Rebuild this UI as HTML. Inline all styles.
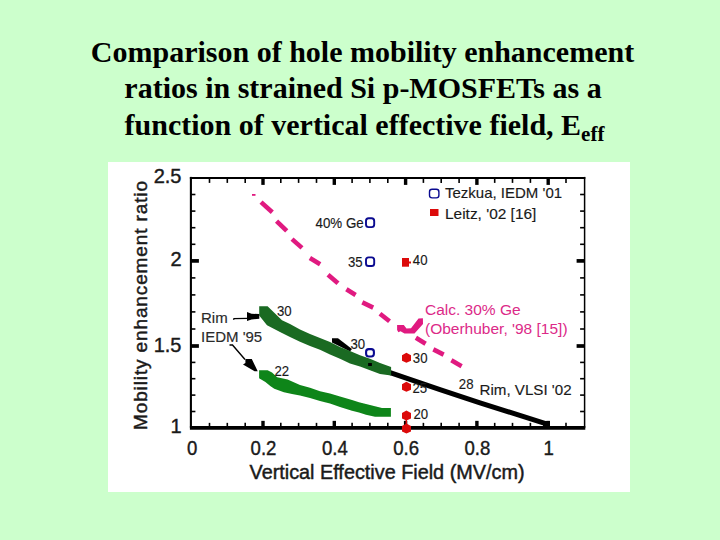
<!DOCTYPE html>
<html><head><meta charset="utf-8">
<style>
html,body{margin:0;padding:0;}
body{width:720px;height:540px;background:#ccffcc;position:relative;overflow:hidden;}
.t{position:absolute;left:0;width:725px;text-align:center;font-family:"Liberation Serif",serif;font-weight:bold;font-size:30px;line-height:36px;color:#000;white-space:nowrap;}
.t sub{font-size:21px;vertical-align:baseline;position:relative;top:6px;}
#box{position:absolute;left:108px;top:162px;width:522px;height:330px;background:#fff;}
svg{position:absolute;left:0;top:0;}
</style></head><body>
<div class="t" style="top:34px">Comparison of hole mobility enhancement</div>
<div class="t" style="top:69.5px;left:0.5px">ratios in strained Si p-MOSFETs as a</div>
<div class="t" style="top:107px;left:2px">function of vertical effective field, E<sub>eff</sub></div>
<div id="box"></div>
<svg width="720" height="540" viewBox="0 0 720 540">
<line x1="190.9" y1="176.9" x2="190.9" y2="427.85" stroke="#000" stroke-width="2.1"/>
<line x1="189.9" y1="177.9" x2="585.3000000000001" y2="177.9" stroke="#000" stroke-width="2"/>
<line x1="584.6" y1="176.9" x2="584.6" y2="427.85" stroke="#000" stroke-width="1.5"/>
<line x1="189.9" y1="427.85" x2="585.3000000000001" y2="427.85" stroke="#000" stroke-width="3.9"/>
<line x1="209.5" y1="427.85" x2="209.5" y2="422.85" stroke="#000" stroke-width="1.6"/>
<line x1="209.5" y1="177.9" x2="209.5" y2="182.9" stroke="#000" stroke-width="1.6"/>
<line x1="227.3" y1="427.85" x2="227.3" y2="422.85" stroke="#000" stroke-width="1.6"/>
<line x1="227.3" y1="177.9" x2="227.3" y2="182.9" stroke="#000" stroke-width="1.6"/>
<line x1="245.2" y1="427.85" x2="245.2" y2="422.85" stroke="#000" stroke-width="1.6"/>
<line x1="245.2" y1="177.9" x2="245.2" y2="182.9" stroke="#000" stroke-width="1.6"/>
<line x1="263.0" y1="427.85" x2="263.0" y2="420.85" stroke="#000" stroke-width="3.4"/>
<line x1="263.0" y1="177.9" x2="263.0" y2="184.9" stroke="#000" stroke-width="3.4"/>
<line x1="280.8" y1="427.85" x2="280.8" y2="422.85" stroke="#000" stroke-width="1.6"/>
<line x1="280.8" y1="177.9" x2="280.8" y2="182.9" stroke="#000" stroke-width="1.6"/>
<line x1="298.6" y1="427.85" x2="298.6" y2="422.85" stroke="#000" stroke-width="1.6"/>
<line x1="298.6" y1="177.9" x2="298.6" y2="182.9" stroke="#000" stroke-width="1.6"/>
<line x1="316.5" y1="427.85" x2="316.5" y2="422.85" stroke="#000" stroke-width="1.6"/>
<line x1="316.5" y1="177.9" x2="316.5" y2="182.9" stroke="#000" stroke-width="1.6"/>
<line x1="334.3" y1="427.85" x2="334.3" y2="420.85" stroke="#000" stroke-width="3.4"/>
<line x1="334.3" y1="177.9" x2="334.3" y2="184.9" stroke="#000" stroke-width="3.4"/>
<line x1="352.1" y1="427.85" x2="352.1" y2="422.85" stroke="#000" stroke-width="1.6"/>
<line x1="352.1" y1="177.9" x2="352.1" y2="182.9" stroke="#000" stroke-width="1.6"/>
<line x1="369.9" y1="427.85" x2="369.9" y2="422.85" stroke="#000" stroke-width="1.6"/>
<line x1="369.9" y1="177.9" x2="369.9" y2="182.9" stroke="#000" stroke-width="1.6"/>
<line x1="387.8" y1="427.85" x2="387.8" y2="422.85" stroke="#000" stroke-width="1.6"/>
<line x1="387.8" y1="177.9" x2="387.8" y2="182.9" stroke="#000" stroke-width="1.6"/>
<line x1="405.6" y1="427.85" x2="405.6" y2="420.85" stroke="#000" stroke-width="3.4"/>
<line x1="405.6" y1="177.9" x2="405.6" y2="184.9" stroke="#000" stroke-width="3.4"/>
<line x1="423.4" y1="427.85" x2="423.4" y2="422.85" stroke="#000" stroke-width="1.6"/>
<line x1="423.4" y1="177.9" x2="423.4" y2="182.9" stroke="#000" stroke-width="1.6"/>
<line x1="441.2" y1="427.85" x2="441.2" y2="422.85" stroke="#000" stroke-width="1.6"/>
<line x1="441.2" y1="177.9" x2="441.2" y2="182.9" stroke="#000" stroke-width="1.6"/>
<line x1="459.1" y1="427.85" x2="459.1" y2="422.85" stroke="#000" stroke-width="1.6"/>
<line x1="459.1" y1="177.9" x2="459.1" y2="182.9" stroke="#000" stroke-width="1.6"/>
<line x1="476.9" y1="427.85" x2="476.9" y2="420.85" stroke="#000" stroke-width="3.4"/>
<line x1="476.9" y1="177.9" x2="476.9" y2="184.9" stroke="#000" stroke-width="3.4"/>
<line x1="494.7" y1="427.85" x2="494.7" y2="422.85" stroke="#000" stroke-width="1.6"/>
<line x1="494.7" y1="177.9" x2="494.7" y2="182.9" stroke="#000" stroke-width="1.6"/>
<line x1="512.5" y1="427.85" x2="512.5" y2="422.85" stroke="#000" stroke-width="1.6"/>
<line x1="512.5" y1="177.9" x2="512.5" y2="182.9" stroke="#000" stroke-width="1.6"/>
<line x1="530.4" y1="427.85" x2="530.4" y2="422.85" stroke="#000" stroke-width="1.6"/>
<line x1="530.4" y1="177.9" x2="530.4" y2="182.9" stroke="#000" stroke-width="1.6"/>
<line x1="548.2" y1="427.85" x2="548.2" y2="420.85" stroke="#000" stroke-width="3.4"/>
<line x1="548.2" y1="177.9" x2="548.2" y2="184.9" stroke="#000" stroke-width="3.4"/>
<line x1="566.0" y1="427.85" x2="566.0" y2="422.85" stroke="#000" stroke-width="1.6"/>
<line x1="566.0" y1="177.9" x2="566.0" y2="182.9" stroke="#000" stroke-width="1.6"/>
<line x1="190.9" y1="411.5" x2="195.4" y2="411.5" stroke="#000" stroke-width="1.6"/>
<line x1="584.6" y1="411.5" x2="580.1" y2="411.5" stroke="#000" stroke-width="1.6"/>
<line x1="190.9" y1="395.1" x2="195.4" y2="395.1" stroke="#000" stroke-width="1.6"/>
<line x1="584.6" y1="395.1" x2="580.1" y2="395.1" stroke="#000" stroke-width="1.6"/>
<line x1="190.9" y1="378.7" x2="195.4" y2="378.7" stroke="#000" stroke-width="1.6"/>
<line x1="584.6" y1="378.7" x2="580.1" y2="378.7" stroke="#000" stroke-width="1.6"/>
<line x1="190.9" y1="362.4" x2="195.4" y2="362.4" stroke="#000" stroke-width="1.6"/>
<line x1="584.6" y1="362.4" x2="580.1" y2="362.4" stroke="#000" stroke-width="1.6"/>
<line x1="190.9" y1="346.0" x2="198.9" y2="346.0" stroke="#000" stroke-width="3.7"/>
<line x1="584.6" y1="346.0" x2="576.6" y2="346.0" stroke="#000" stroke-width="3.7"/>
<line x1="190.9" y1="329.0" x2="195.4" y2="329.0" stroke="#000" stroke-width="1.6"/>
<line x1="584.6" y1="329.0" x2="580.1" y2="329.0" stroke="#000" stroke-width="1.6"/>
<line x1="190.9" y1="311.9" x2="195.4" y2="311.9" stroke="#000" stroke-width="1.6"/>
<line x1="584.6" y1="311.9" x2="580.1" y2="311.9" stroke="#000" stroke-width="1.6"/>
<line x1="190.9" y1="294.9" x2="195.4" y2="294.9" stroke="#000" stroke-width="1.6"/>
<line x1="584.6" y1="294.9" x2="580.1" y2="294.9" stroke="#000" stroke-width="1.6"/>
<line x1="190.9" y1="277.9" x2="195.4" y2="277.9" stroke="#000" stroke-width="1.6"/>
<line x1="584.6" y1="277.9" x2="580.1" y2="277.9" stroke="#000" stroke-width="1.6"/>
<line x1="190.9" y1="260.9" x2="198.9" y2="260.9" stroke="#000" stroke-width="3.7"/>
<line x1="584.6" y1="260.9" x2="576.6" y2="260.9" stroke="#000" stroke-width="3.7"/>
<line x1="190.9" y1="244.3" x2="195.4" y2="244.3" stroke="#000" stroke-width="1.6"/>
<line x1="584.6" y1="244.3" x2="580.1" y2="244.3" stroke="#000" stroke-width="1.6"/>
<line x1="190.9" y1="227.7" x2="195.4" y2="227.7" stroke="#000" stroke-width="1.6"/>
<line x1="584.6" y1="227.7" x2="580.1" y2="227.7" stroke="#000" stroke-width="1.6"/>
<line x1="190.9" y1="211.1" x2="195.4" y2="211.1" stroke="#000" stroke-width="1.6"/>
<line x1="584.6" y1="211.1" x2="580.1" y2="211.1" stroke="#000" stroke-width="1.6"/>
<line x1="190.9" y1="194.5" x2="195.4" y2="194.5" stroke="#000" stroke-width="1.6"/>
<line x1="584.6" y1="194.5" x2="580.1" y2="194.5" stroke="#000" stroke-width="1.6"/>
<text transform="translate(192.2,455.3) scale(0.93,1)" font-family="Liberation Sans, sans-serif" font-size="20" fill="#1a1a1a" text-anchor="middle"  stroke="#1a1a1a" stroke-width="0.4">0</text>
<text transform="translate(263.5,455.3) scale(0.93,1)" font-family="Liberation Sans, sans-serif" font-size="20" fill="#1a1a1a" text-anchor="middle"  stroke="#1a1a1a" stroke-width="0.4">0.2</text>
<text transform="translate(334.8,455.3) scale(0.93,1)" font-family="Liberation Sans, sans-serif" font-size="20" fill="#1a1a1a" text-anchor="middle"  stroke="#1a1a1a" stroke-width="0.4">0.4</text>
<text transform="translate(406.1,455.3) scale(0.93,1)" font-family="Liberation Sans, sans-serif" font-size="20" fill="#1a1a1a" text-anchor="middle"  stroke="#1a1a1a" stroke-width="0.4">0.6</text>
<text transform="translate(477.4,455.3) scale(0.93,1)" font-family="Liberation Sans, sans-serif" font-size="20" fill="#1a1a1a" text-anchor="middle"  stroke="#1a1a1a" stroke-width="0.4">0.8</text>
<text transform="translate(548.7,455.3) scale(0.93,1)" font-family="Liberation Sans, sans-serif" font-size="20" fill="#1a1a1a" text-anchor="middle"  stroke="#1a1a1a" stroke-width="0.4">1</text>
<text x="181.5" y="433.4" font-family="Liberation Sans, sans-serif" font-size="20" fill="#1a1a1a" text-anchor="end"  stroke="#1a1a1a" stroke-width="0.4">1</text>
<text x="181.5" y="351.5" font-family="Liberation Sans, sans-serif" font-size="20" fill="#1a1a1a" text-anchor="end"  stroke="#1a1a1a" stroke-width="0.4">1.5</text>
<text x="181.5" y="266.4" font-family="Liberation Sans, sans-serif" font-size="20" fill="#1a1a1a" text-anchor="end"  stroke="#1a1a1a" stroke-width="0.4">2</text>
<text x="181.5" y="183.4" font-family="Liberation Sans, sans-serif" font-size="20" fill="#1a1a1a" text-anchor="end"  stroke="#1a1a1a" stroke-width="0.4">2.5</text>
<text x="249.5" y="478.8" font-family="Liberation Sans, sans-serif" font-size="20" fill="#1a1a1a" stroke="#1a1a1a" stroke-width="0.45" textLength="275" lengthAdjust="spacingAndGlyphs">Vertical Effective Field (MV/cm)</text>
<text transform="translate(147.2,430) rotate(-90)" font-family="Liberation Sans, sans-serif" font-size="19" fill="#1a1a1a" stroke="#1a1a1a" stroke-width="0.45" textLength="249" lengthAdjust="spacing">Mobility enhancement ratio</text>
<path d="M385,370.9 L440,389.6 L480,402.8 L530,418.7 L548,424.3" fill="none" stroke="#000" stroke-width="5" stroke-linejoin="round"/>
<path d="M332,338.3 L338,338.3 L352,349 L350,351.5 L332,342.5 Z" fill="#000"/>
<rect x="543" y="421" width="7" height="5" fill="#000"/>
<path d="M259.2,306.2 L267.6,306.2 L282,320.2 L290,323.9 L300,329.4 L310,333.9 L320,338 L330,342 L340,346.9 L350,350.9 L360,355.2 L370,358.7 L380,363.1 L391.1,366.9 L391.1,375.4 L380,373.9 L370,370.3 L360,366.5 L350,363.5 L340,358.7 L330,354.4 L320,349.8 L310,346.1 L300,341.7 L290,336.9 L280,332 L267,325.3 L259.2,315.6 Z" fill="#1a6a22"/>
<path d="M259.1,370.2 L267.6,370.2 L272,372.4 L277.2,377.2 L287.6,379.6 L300,385 L310,387.8 L320,391.3 L330,393.6 L340,396.5 L352,400 L359,402.2 L366,404.1 L375,406.3 L382,408.1 L390.9,408.1 L390.9,416.7 L375,416.7 L366,414.8 L359,412.6 L352,410.7 L340,406.9 L330,403.5 L320,400.9 L310,398 L300,395.6 L292,394 L283.9,392.2 L274.3,388.7 L270.6,386.3 L265.4,382 L259.1,378.3 Z" fill="#0e8519"/>
<line x1="261.03" y1="202.13" x2="272.27" y2="212.17" stroke="#e01a80" stroke-width="4.6"/>
<line x1="276.56" y1="221.1" x2="286.74" y2="230.9" stroke="#e01a80" stroke-width="4.6"/>
<line x1="292.02" y1="239.14" x2="301.98" y2="247.86" stroke="#e01a80" stroke-width="4.6"/>
<line x1="309.89" y1="258.03" x2="320.11" y2="264.17" stroke="#e01a80" stroke-width="4.6"/>
<line x1="328.02" y1="274.65" x2="337.98" y2="283.25" stroke="#e01a80" stroke-width="4.6"/>
<line x1="346.39" y1="289.32" x2="355.61" y2="294.98" stroke="#e01a80" stroke-width="4.6"/>
<line x1="362.32" y1="302.45" x2="373.18" y2="307.55" stroke="#e01a80" stroke-width="4.6"/>
<line x1="379.98" y1="313.69" x2="389.52" y2="321.31" stroke="#e01a80" stroke-width="4.6"/>
<line x1="415.89" y1="337.83" x2="425.61" y2="343.67" stroke="#e01a80" stroke-width="4.6"/>
<line x1="433.34" y1="349.42" x2="443.66" y2="354.58" stroke="#e01a80" stroke-width="4.6"/>
<line x1="451.37" y1="360.36" x2="461.63" y2="366.14" stroke="#e01a80" stroke-width="4.6"/>
<rect x="252" y="194" width="3.5" height="1.8" fill="#e01a80"/>
<path d="M397.1,325.1 L403.8,325.1 L406.5,328.4 L411,328.3 L418.5,318.4 L422.9,318.2 L423,324 L414.5,333.4 L404.5,333.4 L400.5,331.2 L398.4,332.2 L397.1,330 Z" fill="#e01a80"/>
<path d="M233.5,319.8 L234,318.6 L248,318.4" fill="none" stroke="#000" stroke-width="1.4"/>
<path d="M247,312 L251.5,313.8 L259.3,314 L259.3,318.7 L251.5,319.6 L247,321 Z" fill="#000"/>
<path d="M229.5,345 L232.5,345 L245,359.5" fill="none" stroke="#000" stroke-width="1.4"/>
<path d="M245.4,359 L251.8,359 L257.7,371.3 L254.6,371.3 L243,364.6 L245.4,363 Z" fill="#000"/>
<text x="201" y="322.5" font-family="Liberation Sans, sans-serif" font-size="15" fill="#2a2a2a" text-anchor="start"  stroke="#2a2a2a" stroke-width="0.15">Rim</text>
<text x="201" y="341.5" font-family="Liberation Sans, sans-serif" font-size="15" fill="#2a2a2a" text-anchor="start"  stroke="#2a2a2a" stroke-width="0.15">IEDM '95</text>
<text transform="translate(277,315.5) scale(0.88,1)" font-family="Liberation Sans, sans-serif" font-size="15" fill="#1a1a1a" text-anchor="start"  stroke="#1a1a1a" stroke-width="0.15">30</text>
<text transform="translate(274.5,375.5) scale(0.88,1)" font-family="Liberation Sans, sans-serif" font-size="15" fill="#1a1a1a" text-anchor="start"  stroke="#1a1a1a" stroke-width="0.15">22</text>
<text transform="translate(350.5,348.8) scale(0.88,1)" font-family="Liberation Sans, sans-serif" font-size="15" fill="#1a1a1a" text-anchor="start"  stroke="#1a1a1a" stroke-width="0.15">30</text>
<text transform="translate(315.5,228) scale(0.92,1)" font-family="Liberation Sans, sans-serif" font-size="14.5" fill="#1a1a1a" text-anchor="start"  stroke="#1a1a1a" stroke-width="0.15">40% Ge</text>
<text transform="translate(348,266.8) scale(0.88,1)" font-family="Liberation Sans, sans-serif" font-size="15" fill="#1a1a1a" text-anchor="start"  stroke="#1a1a1a" stroke-width="0.15">35</text>
<text transform="translate(412.8,264.8) scale(0.88,1)" font-family="Liberation Sans, sans-serif" font-size="15" fill="#1a1a1a" text-anchor="start"  stroke="#1a1a1a" stroke-width="0.15">40</text>
<text transform="translate(412.8,363.3) scale(0.88,1)" font-family="Liberation Sans, sans-serif" font-size="15" fill="#1a1a1a" text-anchor="start"  stroke="#1a1a1a" stroke-width="0.15">30</text>
<text transform="translate(412.5,393) scale(0.88,1)" font-family="Liberation Sans, sans-serif" font-size="15" fill="#1a1a1a" text-anchor="start"  stroke="#1a1a1a" stroke-width="0.15">25</text>
<text transform="translate(413.5,419) scale(0.88,1)" font-family="Liberation Sans, sans-serif" font-size="15" fill="#1a1a1a" text-anchor="start"  stroke="#1a1a1a" stroke-width="0.15">20</text>
<text transform="translate(458.8,389) scale(0.88,1)" font-family="Liberation Sans, sans-serif" font-size="15" fill="#1a1a1a" text-anchor="start"  stroke="#1a1a1a" stroke-width="0.15">28</text>
<text transform="translate(479.5,395.3) scale(1.01,1)" font-family="Liberation Sans, sans-serif" font-size="15" fill="#1a1a1a" text-anchor="start"  stroke="#1a1a1a" stroke-width="0.15">Rim, VLSI '02</text>
<text x="445" y="198.2" font-family="Liberation Sans, sans-serif" font-size="15" fill="#1a1a1a" text-anchor="start"  stroke="#1a1a1a" stroke-width="0.15">Tezkua, IEDM '01</text>
<text transform="translate(445,219) scale(1.03,1)" font-family="Liberation Sans, sans-serif" font-size="15" fill="#1a1a1a" text-anchor="start"  stroke="#1a1a1a" stroke-width="0.15">Leitz, '02 [16]</text>
<text x="425" y="314.8" font-family="Liberation Sans, sans-serif" font-size="15.5" fill="#dc2a88" text-anchor="start" >Calc. 30% Ge</text>
<text x="425" y="333.5" font-family="Liberation Sans, sans-serif" font-size="15.5" fill="#dc2a88" text-anchor="start" >(Oberhuber, '98 [15])</text>
<rect x="366.00" y="218.30" width="8.2" height="8.8" rx="2.6" fill="none" stroke="#0a0a90" stroke-width="1.9"/>
<rect x="366.00" y="257.40" width="8.2" height="8.6" rx="2.6" fill="none" stroke="#0a0a90" stroke-width="1.9"/>
<rect x="366.10" y="349.15" width="7.8" height="7.3" rx="2.6" fill="none" stroke="#0a0a90" stroke-width="2.1"/>
<rect x="429.50" y="189.30" width="9.4" height="8.6" rx="2.6" fill="none" stroke="#0a0a90" stroke-width="1.4"/>
<rect x="430" y="209" width="8.5" height="7" fill="#dc0a0a"/>
<rect x="402" y="258" width="7" height="8.7" fill="#dc0a0a"/><rect x="409" y="261.5" width="2" height="2" fill="#dc0a0a"/>
<path d="M402,355.3 L406.4,352.8 L411,355.3 L411,360.8 L406.4,362.8 L402,360.8 Z" fill="#dc0a0a"/>
<path d="M402,384.3 L406.4,381.8 L411,384.3 L411,389.8 L406.4,391.8 L402,389.8 Z" fill="#dc0a0a"/>
<path d="M402,413.0 L406.4,410.5 L411,413.0 L411,418.5 L406.4,420.5 L402,418.5 Z" fill="#dc0a0a"/>
<path d="M402,426.0 L406.4,423.5 L411,426.0 L411,431.5 L406.4,433.5 L402,431.5 Z" fill="#dc0a0a"/>
<line x1="406.3" y1="415" x2="406.3" y2="428" stroke="#dc0a0a" stroke-width="1.4"/>
<rect x="368.1" y="363" width="3.8" height="3" fill="#000"/>
</svg>
</body></html>
